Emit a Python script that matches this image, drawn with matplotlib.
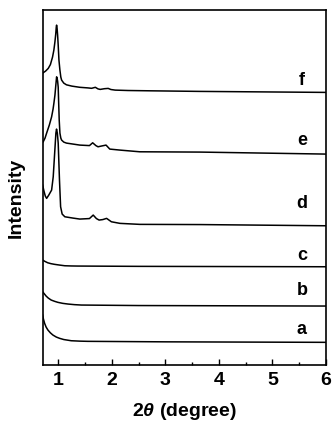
import numpy as np
import matplotlib
matplotlib.use('Agg')
import matplotlib.pyplot as plt

plt.rcParams['font.family'] = ['Liberation Sans', 'DejaVu Sans']
plt.rcParams['font.weight'] = 'bold'
plt.rcParams['mathtext.fontset'] = 'custom'
plt.rcParams['mathtext.it'] = 'Liberation Sans:italic:bold'
plt.rcParams['mathtext.rm'] = 'Liberation Sans:bold'

# XRD patterns, intensity in arbitrary units (stacked with offsets already)
x_f = [0.705, 0.76, 0.81, 0.85, 0.89, 0.915, 0.935, 0.95, 0.96, 0.966, 0.975, 0.985, 0.996, 1.01, 1.028,
       1.045, 1.06, 1.10, 1.15, 1.25, 1.40, 1.55, 1.62, 1.69, 1.74, 1.78, 1.86, 1.93, 1.98, 2.06, 2.3,
       2.71, 3.65, 6.0]
y_f = [292, 294, 296.7, 300.5, 308, 315, 323.3, 331, 338, 340, 337, 330, 320, 305, 295,
       288, 285, 282, 280.3, 279, 277.8, 277.2, 276.8, 277.8, 276.2, 275.7, 276.4, 276.7, 275.6, 275, 274.6,
       274.3, 273.7, 272.7]

x_e = [0.716, 0.75, 0.78, 0.83, 0.873, 0.90, 0.916, 0.935, 0.95, 0.966, 0.975, 0.985, 0.996, 1.005,
       1.015, 1.028, 1.045, 1.06, 1.10, 1.15, 1.40, 1.58, 1.64, 1.70, 1.74, 1.80, 1.89, 1.96, 2.15, 2.52,
       3.65, 6.0]
y_e = [223.3, 227, 232, 240, 248.3, 256, 262, 270, 279, 288.3, 287, 284, 278, 262,
       245, 232, 227, 225, 223, 222, 220, 219.5, 222.3, 219.5, 218.3, 219.0, 220, 216, 215, 213.3,
       213.0, 211]

x_d = [0.705, 0.73, 0.755, 0.78, 0.82, 0.873, 0.903, 0.93, 0.953, 0.965, 0.98, 0.996, 1.02, 1.041,
       1.07, 1.12, 1.27, 1.40, 1.58, 1.65, 1.71, 1.76, 1.83, 1.90, 1.99, 2.15, 2.52, 3.65, 6.0]
y_d = [180, 174, 169, 166.7, 170, 175, 188.3, 212, 232, 236, 232, 222, 185, 158.3,
       151, 148.3, 147, 146, 146.5, 150, 146.5, 145, 145.5, 146.7, 143.3, 141.7, 140.7, 140.5, 139.3]

x_c = [0.705, 0.75, 0.80, 0.86, 0.93, 1.02, 1.12, 1.24, 1.36, 2.5, 6.0]
y_c = [105, 103.6, 102.3, 101.4, 100.7, 100, 99.3, 99.1, 99, 98.7, 98.3]

x_b = [0.705, 0.74, 0.77, 0.81, 0.865, 0.93, 0.99, 1.08, 1.18, 1.30, 1.43, 2.5, 6.0]
y_b = [73.3, 71, 69, 67, 65, 63.7, 62.7, 61.7, 61, 60.4, 60, 59.5, 59]

x_a = [0.705, 0.72, 0.742, 0.77, 0.804, 0.85, 0.897, 0.96, 1.022, 1.10, 1.24, 1.40, 1.55, 3.0, 6.0]
y_a = [50, 46, 41.7, 38, 35, 32.2, 30, 28, 26.7, 25.5, 24.3, 23.9, 23.7, 23.2, 22.7]

labels = ['a', 'b', 'c', 'd', 'e', 'f']
label_y = [36, 75, 110, 162, 225, 285]

fig = plt.figure(figsize=(3.33, 4.22), dpi=100)
ax = fig.add_axes([0.128, 0.135, 0.851, 0.841])

for xs, ys in [(x_a, y_a), (x_b, y_b), (x_c, y_c), (x_d, y_d), (x_e, y_e), (x_f, y_f)]:
    ax.plot(xs, ys, color='black', lw=1.1)

for lab, ly in zip(labels, label_y):
    ax.text(5.55, ly, lab, fontsize=13, fontweight='bold', ha='center', va='center')

ax.set_xlim(0.705, 6.0)
ax.set_ylim(0, 355)
ax.set_xticks([1, 2, 3, 4, 5, 6])
ax.set_xticks(np.arange(1.5, 6, 1.0), minor=True)
ax.set_yticks([])
ax.tick_params(axis='x', which='major', direction='in', length=4.3, width=1.0, labelsize=14, pad=5)
ax.tick_params(axis='x', which='minor', direction='in', length=2.2, width=1.0)
for sp in ax.spines.values():
    sp.set_linewidth(1.2)

ax.set_xlabel(r'2$\theta$ (degree)', fontsize=14, fontweight='bold', labelpad=9)
ax.set_ylabel('Intensity', fontsize=14, fontweight='bold')
ax.yaxis.set_label_coords(-0.062, 0.47)

fig.savefig('out.png', dpi=100)
